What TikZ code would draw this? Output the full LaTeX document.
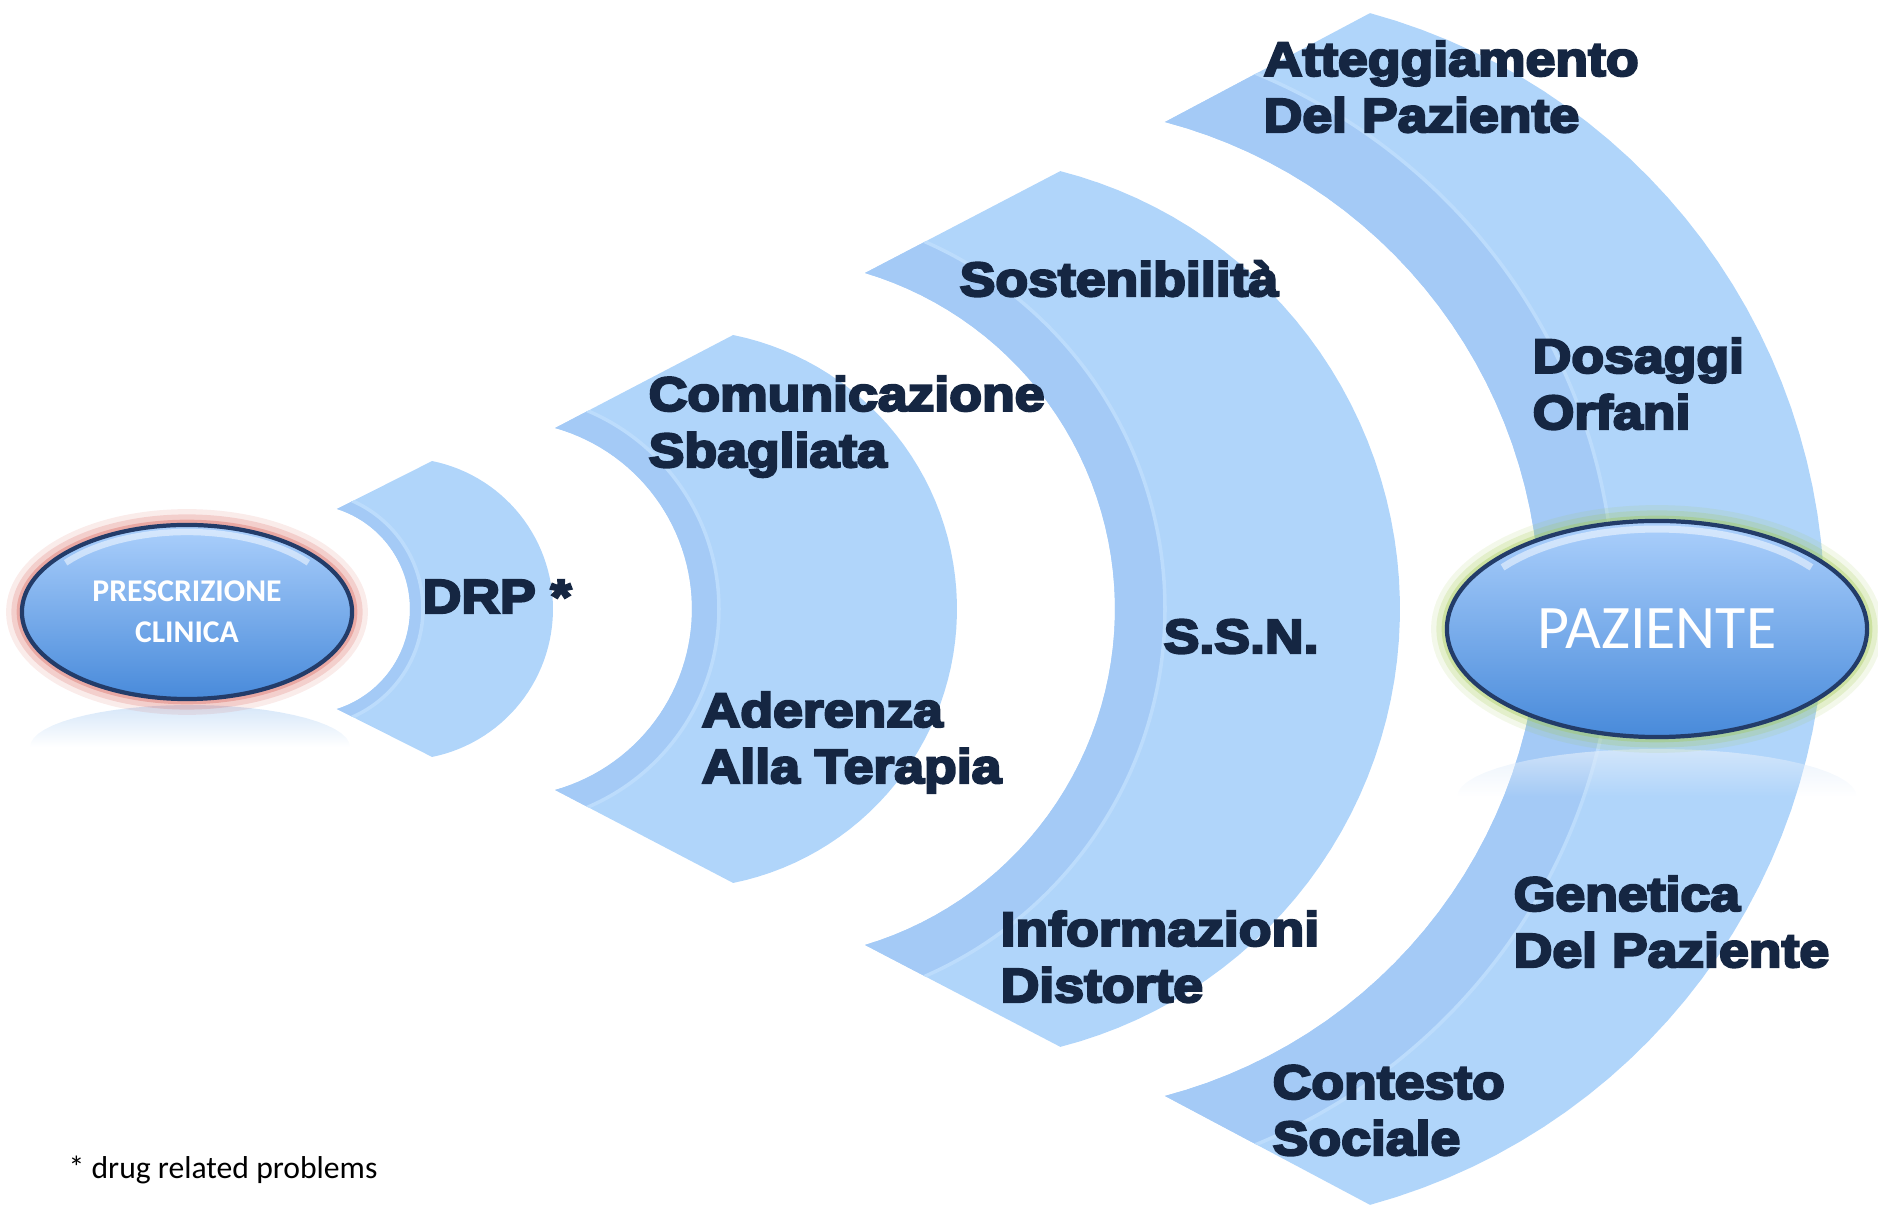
\documentclass[tikz,border=0pt]{standalone}
\usepackage{fontspec}
\usetikzlibrary{shapes.geometric,fadings}
\newfontfamily\heavyfont{Liberation Sans}[FakeStretch=1.12,BoldFeatures={FakeBold=5}]
\newfontfamily\calfont{Carlito}
\definecolor{bandblue}{RGB}{176,213,250}
\definecolor{bandstripe}{RGB}{164,202,246}
\definecolor{bandshine}{RGB}{188,220,252}
\definecolor{navy}{RGB}{21,38,66}
\definecolor{pilltop}{RGB}{172,208,252}
\definecolor{pillmid}{RGB}{128,178,240}
\definecolor{pillbot}{RGB}{72,138,218}
\definecolor{pillrim}{RGB}{35,60,105}
\definecolor{glowred}{RGB}{215,95,85}
\definecolor{glowgreen}{RGB}{160,200,80}
\definecolor{reflblue}{RGB}{196,220,246}
\tikzset{
  factor/.style={anchor=base west, align=left, inner sep=0pt, text=navy,
    font=\heavyfont\bfseries\fontsize{13.6}{16}\selectfont},
  pill/.style={ellipse, draw=pillrim, line width=1.2pt, top color=pilltop,
    middle color=pillmid, bottom color=pillbot, text=white, inner sep=0pt},
  glow/.style={preaction={draw=#1, line width=9pt, opacity=0.12},
    preaction={draw=#1, line width=6pt, opacity=0.2},
    preaction={draw=#1, line width=3pt, opacity=0.35}},
  mirror/.style={fill=reflblue, path fading=south, opacity=0.7}
}
% one curved band: inner cx, inner r, inner angle, outer cx, outer r, outer angle, stripe
\newcommand\crescent[7]{%
  \begin{scope}
    \path[clip] plot[domain=#6:-#6,samples=60] ({#4+#5*cos(\x)},{600+#5*sin(\x)})
      -- plot[domain=-#3:#3,samples=60] ({#1+#2*cos(\x)},{600+#2*sin(\x)}) -- cycle;
    \fill[bandblue] (0,0) rectangle (1878,1209);
    \fill[bandstripe] (#1,600) circle[radius=#2+#7];
    \draw[bandshine, line width=1pt] (#1,600) circle[radius=#2+#7];
  \end{scope}}

\begin{document}
\begin{tikzpicture}[x=0.01cm,y=0.01cm]
\useasboundingbox (0,0) rectangle (1878,1209);
% bands
\crescent{305}{105}{72.3}{402}{151}{78.5}{13}
\crescent{503.9}{188.1}{74.2}{677.4}{279.6}{78.5}{27}
\crescent{764.2}{350.8}{73.3}{947.9}{452.1}{75.6}{50}
\crescent{1036.3}{503.7}{75.2}{1207}{617.8}{74.7}{75}
% reflections
\fill[mirror] plot[domain=180:0,samples=30] ({190+160*cos(\x)},{462+42*sin(\x)}) -- cycle;
\fill[mirror, fill=white!50!reflblue] plot[domain=180:0,samples=30] ({1657+200*cos(\x)},{412+48*sin(\x)}) -- cycle;
% ellipses
\node[pill, glow=glowred, minimum width=3.3cm, minimum height=1.74cm, align=center,
  font=\calfont\bfseries\fontsize{9}{11.7}\selectfont] (presc) at (187,597) {PRESCRIZIONE\\CLINICA};
\node[pill, glow=glowgreen, minimum width=4.2cm, minimum height=2.16cm,
  font=\calfont\fontsize{17.6}{20}\selectfont] (paz) at (1657,580) {PAZIENTE};
\draw[white, opacity=0.5, line width=1.8pt] plot[domain=38:142,samples=30] ({187+154*cos(\x)},{597+80*sin(\x)});
\draw[white, opacity=0.5, line width=2pt] plot[domain=38:142,samples=30] ({1657+196*cos(\x)},{580+100*sin(\x)});
% labels
\node[factor] (drp) at (422,596) {DRP *};
\node[factor] (comunic) at (648,742) {Comunicazione\\Sbagliata};
\node[factor] (aderenza) at (701,426) {Aderenza\\Alla Terapia};
\node[factor] (sosten) at (959,913) {Sostenibilità};
\node[factor] (ssn) at (1163,556) {S.S.N.};
\node[factor] (inform) at (1000,207) {Informazioni\\Distorte};
\node[factor] (atteggi) at (1263,1077) {Atteggiamento\\Del Paziente};
\node[factor] (dosaggi) at (1532,780) {Dosaggi\\Orfani};
\node[factor] (genetica) at (1513,242) {Genetica\\Del Paziente};
\node[factor] (contesto) at (1272,54) {Contesto\\Sociale};
\node[anchor=base west, inner sep=0pt, font=\calfont\fontsize{9}{11}\selectfont] (nota) at (68,30) {* drug related problems};
\end{tikzpicture}
\end{document}
